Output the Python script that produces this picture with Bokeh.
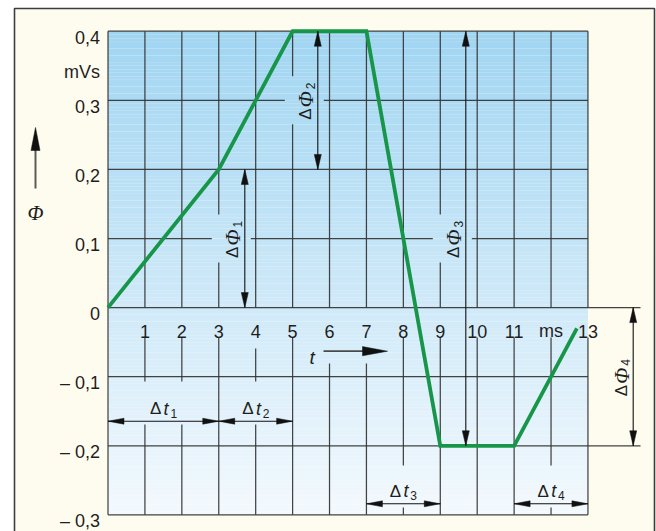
from bokeh.plotting import figure
from bokeh.models import Range1d
from bokeh.core.properties import value
from bokeh.embed import file_html
from bokeh.resources import INLINE

# Magnetic flux Φ over time t
t_ms = [0, 3, 5, 7, 9, 11, 12.7]
phi_mVs = [0, 0.2, 0.4, 0.4, -0.2, -0.2, -0.03]

x_ticks = list(range(1, 14))
x_tick_labels = ["1", "2", "3", "4", "5", "6", "7", "8", "9", "10", "11", "ms", "13"]
y_ticks = [0.4, 0.3, 0.2, 0.1, 0.0, -0.1, -0.2, -0.3]
y_tick_labels = ["0,4", "0,3", "0,2", "0,1", "0", "\u2013 0,1", "\u2013 0,2", "\u2013 0,3"]
unit_label = "mVs"
unit_pos = 0.35

# time intervals Δt1..Δt4 (ms)
dt_start = [0, 3, 7, 11]
dt_end = [3, 5, 9, 13]
dt_names = ["1", "2", "3", "4"]

# flux changes ΔΦ1..ΔΦ4 (mVs)
dphi_lo = [0.0, 0.2, -0.2, -0.2]
dphi_hi = [0.2, 0.4, 0.4, 0.0]
dphi_names = ["1", "2", "3", "4"]

# ---- pixel geometry of the drawing ----
W, H = 656, 531
X0, XS = 107.5, 36.92   # pixel of t=0, pixels per ms
Y0, YS = 307.1, 690.9   # pixel of Φ=0, pixels per mVs
T_MAX, PHI_MIN, PHI_MAX = 13, -0.3, 0.4


def xd(px):
    return (px - X0) / XS


def yd(py):
    return (Y0 - py) / YS


def wx(n):
    return n / XS


def hy(n):
    return n / YS


p = figure(width=W, height=H, output_backend="svg", toolbar_location=None,
           x_range=Range1d(xd(0), xd(W)), y_range=Range1d(yd(H), yd(0)),
           x_axis_type=None, y_axis_type=None, min_border=0)
p.outline_line_color = None
p.background_fill_color = "white"
p.border_fill_color = "white"
p.xgrid.visible = False
p.ygrid.visible = False

SANS = value("Liberation Sans")
SERIF = value("Liberation Serif")
INK = "#1e1e1e"
TICK_FS = "18px"

# framed cream panel
p.quad(left=[xd(14)], right=[xd(654)], top=[yd(8)], bottom=[yd(545)],
       fill_color="#FEFCEE", line_color="#3d3d3d", line_width=1.6)

# blue gradient field
n = 140
top_c = (160, 213, 242)
bot_c = (243, 249, 254)
band = (PHI_MAX - PHI_MIN) / n
g_bottom, g_top, g_cols = [], [], []
for i in range(n):
    f = (i + 0.5) / n
    r = [round(top_c[k] + (bot_c[k] - top_c[k]) * f) for k in range(3)]
    g_top.append(PHI_MAX - i * band)
    g_bottom.append(PHI_MAX - (i + 1) * band - 1e-4)
    g_cols.append("#%02x%02x%02x" % tuple(r))
p.quad(left=0, right=T_MAX, top=g_top, bottom=g_bottom, fill_color=g_cols, line_color=None)

# ---- grid with gaps behind the annotations ----
gx, gy = [], []


def seg(x0, y0, x1, y1):
    gx.append([x0, x1])
    gy.append([y0, y1])


def hline(y, x0, x1, gaps=()):
    a = x0
    for g0, g1 in sorted(gaps):
        seg(a, y, g0, y)
        a = g1
    seg(a, y, x1, y)


def vline(x, y0, y1, gaps=()):
    a = y0
    for g0, g1 in sorted(gaps):
        seg(x, a, x, g0)
        a = g1
    seg(x, a, x, y1)


DPHI_X = [xd(244.3), xd(317.3), xd(465.3), xd(632.7)]
label_mid = [(lo + hi) / 2 for lo, hi in zip(dphi_lo, dphi_hi)]

h_gaps = {}
for i in range(3):
    h_gaps.setdefault(round(label_mid[i], 2), []).append((DPHI_X[i] - wx(33), DPHI_X[i] + wx(6)))

EXT = xd(640)
for yv in y_ticks:
    key = round(yv, 2)
    if key in (0.0, -0.2):
        hline(yv, 0, EXT)
    else:
        hline(yv, 0, T_MAX, h_gaps.get(key, []))

# vertical lines: upper half
label_t = {3: 0, 5: 1, 9: 2}
vline(0, PHI_MIN, PHI_MAX)
for t in x_ticks:
    gaps = []
    if t in label_t:
        c = label_mid[label_t[t]]
        gaps.append((c - hy(24), c + hy(24)))
    vline(t, 0, PHI_MAX, gaps)

# vertical lines: lower half, broken around the time labels
low_pieces = {
    1: [(337, 381), (424, 514.3)],
    2: [(337, 381), (424, 514.3)],
    3: [(337, 514.3)],
    4: [(348, 381), (424, 514.3)],
    5: [(337, 514.3)],
    6: [(363, 514.3)],
    7: [(363, 514.3)],
    8: [(337, 465), (507, 514.3)],
    9: [(337, 514.3)],
    10: [(337, 514.3)],
    11: [(337, 514.3)],
    12: [(337, 465), (507, 514.3)],
    13: [(337, 514.3)],
}
for t, pieces in low_pieces.items():
    for a, b in pieces:
        seg(t, yd(a), t, yd(b))

p.multi_line(gx, gy, line_color="#333333", line_width=1.25, line_alpha=0.92)

# ---- flux curve ----
p.line(t_ms, phi_mVs, line_color="#17964A", line_width=3.8, line_join="miter")

# ---- tick labels ----
p.text(x=[xd(99.5)] * len(y_ticks), y=[v - hy(6.3) for v in y_ticks], text=y_tick_labels,
       text_font=SANS, text_font_size=TICK_FS, text_align="right",
       text_baseline="alphabetic", text_color=INK)
p.text(x=[xd(99.5)], y=[unit_pos - hy(6.3)], text=[unit_label],
       text_font=SANS, text_font_size=TICK_FS, text_align="right",
       text_baseline="alphabetic", text_color=INK)
p.text(x=x_ticks, y=[yd(330.8)] * len(x_ticks), text=x_tick_labels,
       text_font=SANS, text_font_size=TICK_FS, text_align="center",
       text_baseline="alphabetic", text_color=INK)

# ---- arrowheads / dimension lines ----
hx, hyy = [], []
lx, ly = [], []


def hhead(tip, y, d, length=16, half=3.0):
    base = tip - d * wx(length)
    hx.append([tip, base, base])
    hyy.append([y, y + hy(half), y - hy(half)])


def vhead(x, tip, d, length=15, half=3.5):
    base = tip - d * hy(length)
    hx.append([x, x - wx(half), x + wx(half)])
    hyy.append([tip, base, base])


# Δt dimension arrows
dt_rows = [yd(420.7), yd(420.7), yd(503.3), yd(503.3)]
for a, b, r in zip(dt_start, dt_end, dt_rows):
    lx.append([a, b])
    ly.append([r, r])
    hhead(a, r, -1)
    hhead(b, r, 1)

# ΔΦ dimension arrows
for x, lo, hi in zip(DPHI_X, dphi_lo, dphi_hi):
    lx.append([x, x])
    ly.append([lo, hi])
    vhead(x, hi, 1)
    vhead(x, lo, -1)

p.multi_line(lx, ly, line_color="#111111", line_width=1.1)

# axis direction arrows (t → and Φ ↑)
p.line([xd(323), xd(364)], [yd(350.7)] * 2, line_color="#4a4a4a", line_width=1.8)
hhead(xd(387), yd(350.7), 1, length=25, half=4.6)
p.line([xd(35)] * 2, [yd(188), yd(148)], line_color="#5a5a5a", line_width=2.0)
vhead(xd(35), yd(127), 1, length=23, half=4.5)

p.patches(hx, hyy, fill_color="#111111", line_color="#111111", line_width=0.5)

p.text(x=[xd(309)], y=[yd(357)], text=["t"], text_font=SANS, text_font_style="italic",
       text_font_size="19px", text_align="left", text_baseline="alphabetic", text_color=INK)
p.text(x=[xd(35)], y=[yd(212)], text=["\u03a6"], text_font=SERIF, text_font_style="italic",
       text_font_size="21px", text_align="center", text_baseline="alphabetic", text_color=INK)

# ---- Δt labels ----
for a, b, r, s in zip(dt_start, dt_end, dt_rows, dt_names):
    c = (a + b) / 2
    base = r + hy(12.5)
    p.text(x=[c - wx(13.5)], y=[base], text=["\u0394"], text_font=SANS, text_font_size="17px",
           text_align="left", text_baseline="alphabetic", text_color=INK)
    p.text(x=[c + wx(0.2)], y=[base], text=["t"], text_font=SANS, text_font_style="italic",
           text_font_size="18px", text_align="left", text_baseline="alphabetic", text_color=INK)
    p.text(x=[c + wx(7)], y=[base - hy(4.5)], text=[s], text_font=SANS, text_font_size="12px",
           text_align="left", text_baseline="alphabetic", text_color=INK)

# ---- ΔΦ labels (rotated, reading upward) ----
ROT = 1.5707963
for x, c, s in zip(DPHI_X, label_mid, dphi_names):
    bx = x - wx(12)
    start = c - hy(19.5)
    p.text(x=[bx], y=[start], text=["\u0394"], angle=ROT, text_font=SANS, text_font_size="17px",
           text_align="left", text_baseline="alphabetic", text_color=INK)
    p.text(x=[bx + wx(0.5)], y=[start + hy(12.5)], text=["\u03a6"], angle=ROT, text_font=SERIF,
           text_font_style="italic", text_font_size="21px",
           text_align="left", text_baseline="alphabetic", text_color=INK)
    p.text(x=[bx + wx(4.5)], y=[start + hy(30.5)], text=[s], angle=ROT, text_font=SANS,
           text_font_size="12px", text_align="left", text_baseline="alphabetic", text_color=INK)

open("out.html", "w").write(file_html(p, INLINE))
